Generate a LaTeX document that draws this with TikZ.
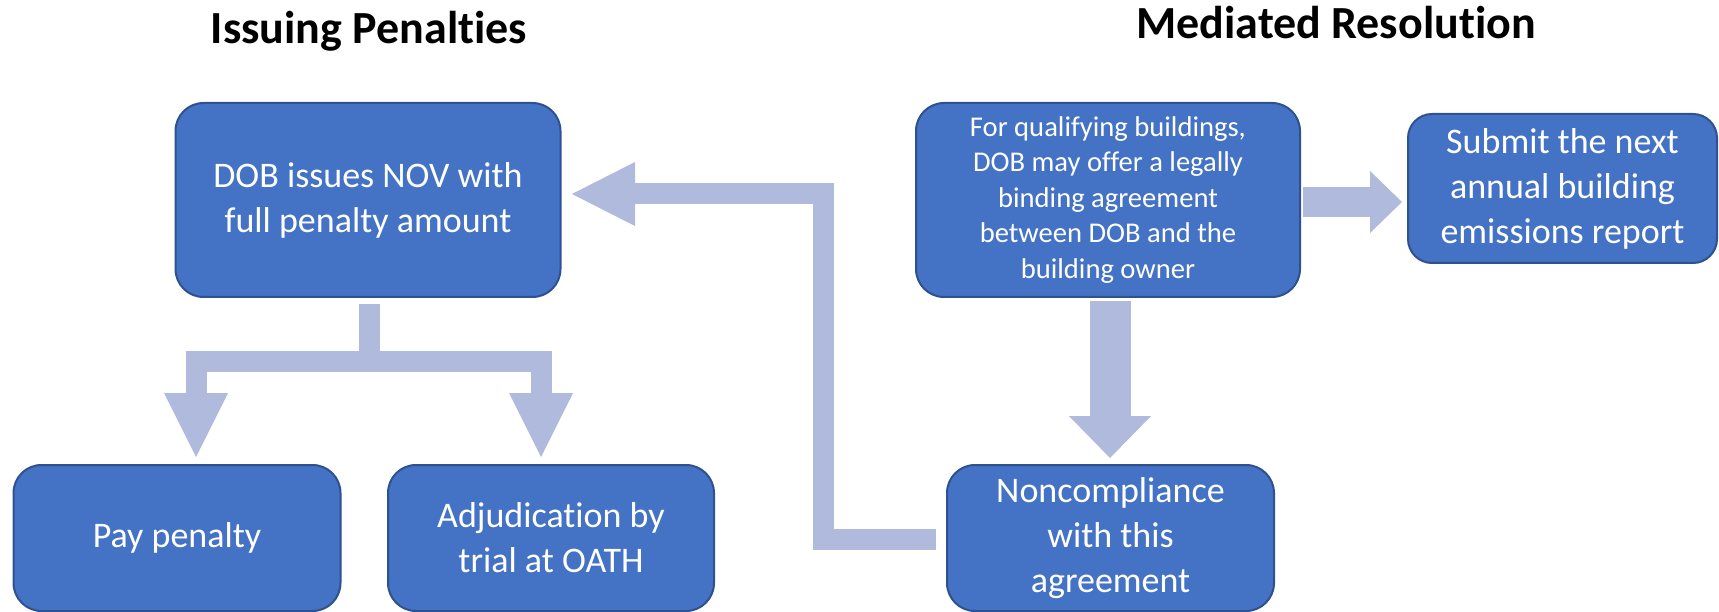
\documentclass[tikz,border=0pt]{standalone}
\usepackage{fontspec}
\setmainfont{Carlito}[Ligatures=NoCommon]
\usetikzlibrary{arrows.meta,calc}
\definecolor{boxfill}{HTML}{4472C4}
\definecolor{boxline}{HTML}{2F528F}
\definecolor{arrowc}{HTML}{AFBADC}
\tikzset{
  flowbox/.style={draw=boxline, fill=boxfill, line width=2pt, rounded corners=28pt,
    text=white, align=center, inner sep=0pt},
  bigtext/.style={font=\fontsize{36}{45}\selectfont},
  smalltext/.style={font=\fontsize{28.6}{35.5}\selectfont},
  titletext/.style={font=\fontsize{46}{55}\selectfont\bfseries, anchor=base},
  blockline/.style={draw=arrowc, line join=miter, line cap=butt},
}
\begin{document}
\begin{tikzpicture}[x=1pt,y=-1pt]
\useasboundingbox (0,0) rectangle (1719,612);
% titles
\node[titletext] (t1) at (369,44) {Issuing Penalties};
\node[titletext] (t2) at (1336,39) {Mediated Resolution};
% boxes
\node[flowbox, bigtext, minimum width=385pt, minimum height=194pt] (dob) at (368,200) {DOB issues NOV with\\full penalty amount};
\node[flowbox, bigtext, minimum width=327pt, minimum height=146pt] (pay) at (177,538) {Pay penalty};
\node[flowbox, bigtext, minimum width=326pt, minimum height=146pt] (adj) at (551,538) {Adjudication by\\trial at OATH};
\node[flowbox, smalltext, minimum width=384pt, minimum height=194pt] (med) at (1108,200) {For qualifying buildings,\\DOB may offer a legally\\binding agreement\\between DOB and the\\building owner};
\node[flowbox, bigtext, rounded corners=24pt, minimum width=309pt, minimum height=149pt] (sub) at (1562.5,188.5) {Submit the next\\annual building\\emissions report};
\node[flowbox, bigtext, minimum width=327pt, minimum height=146pt] (non) at (1110.5,538) {Noncompliance\\with this\\agreement};
% connector points
\coordinate (stemtop) at (369,304);
\coordinate (junction) at (369,361);
\coordinate (barL) at (196,361);
\coordinate (barR) at (541,361);
\coordinate (tipL) at (196,457);
\coordinate (tipR) at (541,457);
\coordinate (fbstart) at (936,539.5);
\coordinate (fbturn1) at (823,539.5);
\coordinate (fbturn2) at (823,194);
\coordinate (fbtip) at (572,194);
\coordinate (rstart) at (1303,202);
\coordinate (rtip) at (1402,202);
\coordinate (dstart) at (1110,301);
\coordinate (dtip) at (1110,458);
% branching arrow from DOB box
\draw[blockline, line width=21pt] (stemtop) -- (junction);
\draw[blockline, line width=21pt,
  {Triangle[length=64pt,width=64pt,line width=0pt,color=arrowc]}-{Triangle[length=64pt,width=64pt,line width=0pt,color=arrowc]}]
  (tipL) -- (barL) -- (barR) -- (tipR);
% feedback arrow
\draw[blockline, line width=21pt,
  -{Triangle[length=63pt,width=64pt,line width=0pt,color=arrowc]}]
  (fbstart) -- (fbturn1) -- (fbturn2) -- (fbtip);
% right arrow
\draw[blockline, line width=30pt,
  -{Triangle[length=32pt,width=62pt,line width=0pt,color=arrowc]}]
  (rstart) -- (rtip);
% down arrow
\draw[blockline, line width=41pt,
  -{Triangle[length=42pt,width=82pt,line width=0pt,color=arrowc]}]
  (dstart) -- (dtip);
\end{tikzpicture}
\end{document}
